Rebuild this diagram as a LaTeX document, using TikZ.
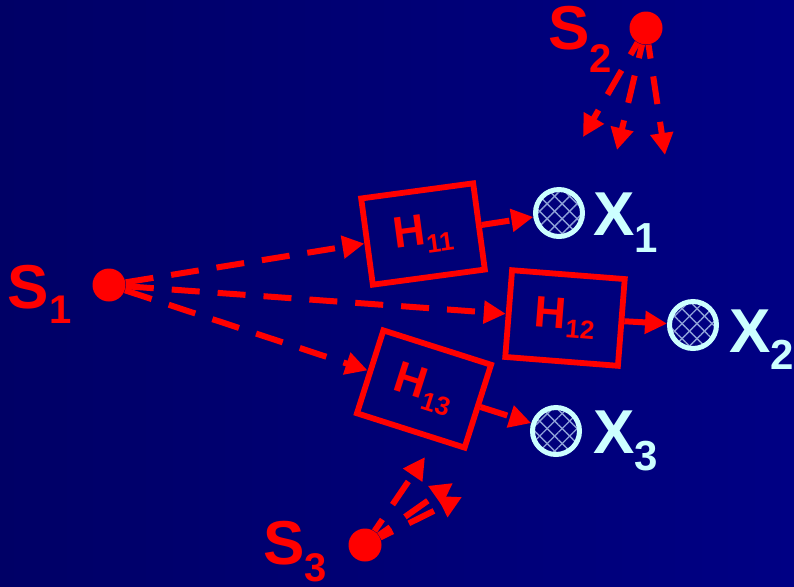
\documentclass[tikz,border=0pt]{standalone}
\usepackage{fontspec}
\setmainfont{Liberation Sans}
\usepackage{tikz}
\usetikzlibrary{positioning,arrows.meta,patterns.meta}
\definecolor{bgleft}{RGB}{0,0,102}
\definecolor{bgright}{RGB}{0,0,132}
\definecolor{sigred}{HTML}{FF0000}
\definecolor{obscyan}{HTML}{CCFFFF}
\definecolor{meshblue}{HTML}{8EA2D8}
\tikzset{
  bd src/.style={circle, fill=sigred, minimum size=16.5pt, inner sep=0pt},
  bd sys/.style={draw=sigred, line width=2.9pt, minimum width=56.5pt, minimum height=43.5pt,
                 inner sep=0pt, text=sigred, font=\bfseries\fontsize{22}{22}\selectfont},
  bd obs/.style={circle, draw=obscyan, line width=2.5pt, minimum size=23.5pt, inner sep=0pt,
                 preaction={pattern={Lines[angle=45, distance=5.3pt, line width=0.7pt]}, pattern color=meshblue},
                 preaction={pattern={Lines[angle=-45, distance=5.3pt, line width=0.7pt]}, pattern color=meshblue}},
  bd sig/.style={draw=sigred, line width=3pt, dash pattern=on 14pt off 9pt,
                 -{Triangle[length=11pt, width=11pt]}},
  bd lab/.style={anchor=base west, inner sep=0pt, font=\bfseries\fontsize{31}{31}\selectfont},
}

\begin{document}
\begin{tikzpicture}[x=0.5pt, y=-0.5pt]
  \useasboundingbox (0,0) rectangle (794,586);
  \shade[left color=bgleft, right color=bgright] (0,0) rectangle (794,586);
  % sources
  \node[bd src] (s1) at (109,285) {};
  \node[bd src] (s2) at (646,28) {};
  \node[bd src] (s3) at (365,545) {};
  \node[bd lab, text=sigred] (s1l) at (7.5,308) {S\raisebox{-7.5pt}{\fontsize{20}{20}\selectfont 1}};
  \node[bd lab, text=sigred] (s2l) at (548,49) {S\raisebox{-11.5pt}{\fontsize{20}{20}\selectfont 2}};
  \node[bd lab, text=sigred] (s3l) at (263,564) {S\raisebox{-8.5pt}{\fontsize{20}{20}\selectfont 3}};
  % channels
  \node[bd sys, rotate=7.7] (h11) at (423,234) {H\raisebox{-4.5pt}{\fontsize{13}{13}\selectfont 11}};
  \node[bd sys, rotate=-4.5] (h12) at (565,318) {H\raisebox{-4.5pt}{\fontsize{13}{13}\selectfont 12}};
  \node[bd sys, rotate=-17.7] (h13) at (424,389) {H\raisebox{-4.5pt}{\fontsize{13}{13}\selectfont 13}};
  % sensors
  \node[bd obs] (x1) at (559,213) {};
  \node[bd obs] (x2) at (693,325) {};
  \node[bd obs] (x3) at (556,431) {};
  \node[bd lab, text=obscyan] (x1l) at (593,235) {X\raisebox{-8.5pt}{\fontsize{21}{21}\selectfont 1}};
  \node[bd lab, text=obscyan] (x2l) at (729,352) {X\raisebox{-8.5pt}{\fontsize{21}{21}\selectfont 2}};
  \node[bd lab, text=obscyan] (x3l) at (593,453) {X\raisebox{-8.5pt}{\fontsize{21}{21}\selectfont 3}};
  % loose ends of the interferers
  \coordinate (s2a) at (583,137); \coordinate (s2b) at (617,150); \coordinate (s2c) at (665,155);
  \coordinate (s3a) at (425,457); \coordinate (s3b) at (453,483); \coordinate (s3c) at (462,497);
  % paths
  \foreach \h in {h11,h12,h13} \draw[bd sig] (s1) -- (\h);
  \draw[bd sig] (h11) -- (x1); \draw[bd sig] (h12) -- (x2); \draw[bd sig] (h13) -- (x3);
  \foreach \t in {s2a,s2b,s2c} \draw[bd sig, dash phase=7pt] (s2) -- (\t);
  \foreach \t in {s3a,s3b,s3c} \draw[bd sig, dash phase=7pt] (s3) -- (\t);
\end{tikzpicture}
\end{document}
